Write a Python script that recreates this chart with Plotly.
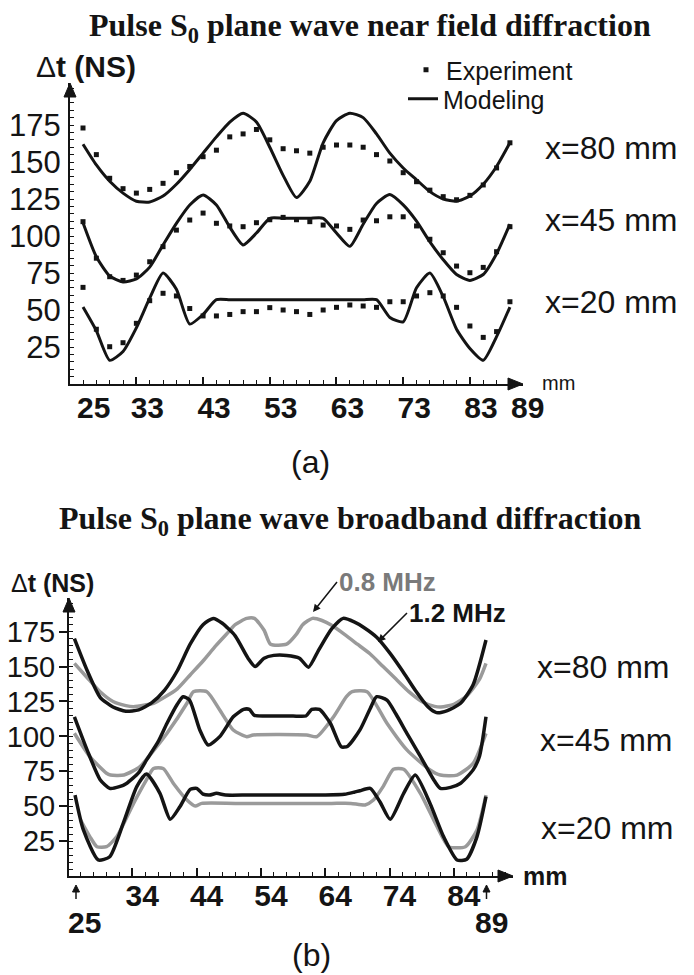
import plotly.graph_objects as go

# ---------------- data: panel (a) ----------------
a_pos = [25, 27, 29, 31, 33, 35, 37, 39, 41, 43, 45, 47, 49, 51, 53, 55, 57,
         59, 61, 63, 65, 67, 69, 71, 73, 75, 77, 79, 81, 83, 85, 87, 89]

a_exp_80 = [173, 155, 139, 132, 129, 131.5, 135.6, 142.8, 147, 153.6, 158, 167, 169,
            172, 165, 159, 157.6, 156, 160, 161.5, 161.5, 160, 155, 150.7, 142.8,
            136.7, 131, 126.6, 124.5, 127.5, 134.5, 146, 163]
a_exp_45 = [109.7, 85, 72.5, 70, 73.6, 82.6, 92.8, 104, 110.8, 115.5, 108.6, 106.8,
            106.3, 109, 111, 112.6, 111, 109.7, 107.4, 106.8, 104.5, 110.8, 110.3,
            113, 113, 106.8, 97.8, 88.7, 79.7, 75.2, 78.8, 89.4, 106.3]
a_exp_20 = [65.3, 37, 25.2, 27.9, 41, 56.3, 61.3, 59.5, 51, 46, 46, 47, 48.9, 48.9,
            51.6, 50, 48.9, 47, 50, 51.8, 53.4, 52.7, 51.8, 55.6, 55.6, 59.5, 61.7,
            59.5, 51.8, 39.2, 31.5, 35.4, 55.6]

a_mod_80 = [162, 148, 137, 129, 123.5, 123, 127, 135, 145, 156, 167, 177, 183, 177,
            160, 141, 126, 137, 163, 178, 183, 180, 169, 156, 146, 138, 130, 125,
            123.5, 127, 135, 147, 163]
a_mod_45 = [109, 86, 73, 69, 71, 79, 94, 108.6, 121, 127.7, 121, 106, 94, 102, 112,
            112, 112, 112, 112, 102, 93, 108, 122, 128, 121, 110, 96, 84, 74, 70, 74,
            88, 108]
a_mod_20 = [52, 36, 16, 22, 38, 58, 75, 64, 40.5, 47, 57, 57, 57, 57, 57, 57, 57, 57,
            57, 57, 57, 57, 57, 45, 42, 65, 75, 59, 37, 24, 16, 32, 52]

a_xticks = [33, 43, 53, 63, 73, 83]
a_yticks = [25, 50, 75, 100, 125, 150, 175]

# ---------------- data: panel (b) ----------------
b_x_12_80 = [25, 27, 29, 31, 33, 35, 37, 39, 41, 43, 45, 46.6, 48, 50, 52, 53.1, 54.5,
             56, 58, 60, 61.4, 63, 65, 66.8, 68.5, 70, 72, 74, 76, 78, 80, 81.3, 83,
             85, 87, 89]
b_y_12_80 = [170, 147, 128, 121, 118, 119, 124, 133, 147, 166, 180, 184.5, 181, 172,
             156, 150, 156, 158, 158, 156, 149.5, 162, 177, 184.5, 182, 178, 171, 160,
             147, 133, 121, 117, 118.5, 123.5, 137, 169]

b_x_08_80 = [25, 27, 29, 31, 33, 34.2, 36, 37.3, 39, 41, 43, 45, 47, 49, 50, 51.8, 53,
             54.5, 55.5, 58, 59.5, 60.5, 62, 63.5, 65, 67, 69, 71, 73, 75, 77, 79, 81,
             82, 84, 86, 88, 89]
b_y_08_80 = [152.3, 142, 132, 125, 122, 121.3, 122.5, 123.7, 128, 134, 144, 154, 165,
             175, 180, 184.5, 184.5, 176, 166, 166, 173, 180, 184.5, 183, 179.5, 173,
             166, 159, 150, 141, 132, 125, 121.5, 121, 123, 129, 141, 152.3]

b_x_12_45 = [25, 27, 29, 30.5, 32, 33.1, 35, 36.2, 38, 39.4, 41, 41.9, 42.9, 44.5, 45.8,
             47.6, 49.7, 51.3, 52.2, 53, 55, 57, 59, 61, 61.9, 63.1, 64.8, 66.5, 67.5,
             69.4, 71, 72, 73.6, 75, 76.7, 78, 79.5, 81, 81.9, 83.5, 85, 87, 88, 89]
b_y_12_45 = [114, 90, 69, 62.8, 64, 66.3, 74, 83, 96, 109.4, 123, 128.4, 126, 104.6,
             93.8, 99.8, 114, 119.3, 119.3, 115, 114.6, 114.6, 114.6, 114.6, 119.3,
             119.3, 109.4, 92.5, 93, 104.6, 120, 128.4, 126, 116, 102.2, 92, 80, 68,
             62.8, 63.5, 66.3, 76, 86, 114]

b_x_08_45 = [25, 27.4, 30, 30.6, 32.7, 35.2, 37, 39.4, 42.5, 43.5, 45.6, 47.6, 49.7,
             51.8, 52.8, 61.1, 62.7, 65.3, 67.3, 68.2, 70.5, 73.6, 76.7, 80.3, 81.9,
             84.5, 87, 89]
b_y_08_45 = [102.2, 85.5, 73.6, 72.3, 72.3, 78.3, 88, 102.2, 123.7, 132, 132, 118.9,
             104.6, 99.8, 101, 101, 99.8, 114, 128.4, 132, 132, 109.4, 90.3, 75.9,
             72.3, 72.3, 80.7, 102.2]

b_x_12_20 = [25.1, 26.4, 28.7, 30.5, 32.6, 34.7, 36.2, 38.3, 39.9, 41.4, 43, 44, 45, 46,
             47.1, 48.5, 52, 56, 60, 64, 67, 68.5, 69.4, 71, 72.5, 74.1, 76.2, 78,
             80.3, 82.4, 84.5, 86, 87.6, 89]
b_y_12_20 = [58, 33, 11.5, 13.8, 37.8, 64, 73, 59.2, 40.6, 49.6, 62, 62.8, 58.7, 58,
             59.2, 58, 58, 58, 58, 58, 58.5, 60, 61.1, 62.8, 53.2, 40.6, 59.2, 72.3, 52,
             28.2, 11.5, 12, 28.2, 56.8]

b_x_08_20 = [25.9, 27.4, 28.5, 30, 31.6, 34.2, 36.2, 37.3, 38.8, 40.4, 42.5, 43.8, 44.8,
             50, 55, 60, 65, 68, 70.2, 71.5, 73, 74.6, 76.2, 78.8, 81.4, 83.2, 85.8,
             87.6, 89]
b_y_08_20 = [40.6, 28.2, 21, 21, 28.2, 52, 68.8, 77, 77, 66.3, 54.4, 50.1, 52, 52, 52,
             52, 52, 52, 50.9, 54.4, 64, 76.5, 76.5, 59.2, 35.3, 21, 21, 33, 58]

b_xticks = [34, 44, 54, 64, 74, 84]
b_yticks = [25, 50, 75, 100, 125, 150, 175]

# ---------------- styling ----------------
OFF = 8                     # page body margin
W, H = 694 - OFF, 975 - OFF
BLACK = "#141414"
GRAY = "#9a9a9a"
SANS = "Liberation Sans, Arial, sans-serif"
SERIF = "Liberation Serif, Times New Roman, serif"


def PX(x):
    return (x - OFF) / W


def PY(y):
    return 1 - (y - OFF) / H


fig = go.Figure()

# panel (a) experiment
for i, ys in enumerate([a_exp_80, a_exp_45, a_exp_20]):
    fig.add_trace(go.Scatter(
        x=a_pos, y=ys, mode="markers", xaxis="x", yaxis="y",
        marker=dict(symbol="square", size=5, color=BLACK),
        name="Experiment", legend="legend", showlegend=(i == 0)))
# panel (a) modeling
for i, ys in enumerate([a_mod_80, a_mod_45, a_mod_20]):
    fig.add_trace(go.Scatter(
        x=a_pos, y=ys, mode="lines", xaxis="x", yaxis="y",
        line=dict(color=BLACK, width=3, shape="spline", smoothing=0.6),
        name="Modeling", legend="legend2", showlegend=(i == 0)))

# panel (b)
for xs, ys, col in [(b_x_08_80, b_y_08_80, GRAY), (b_x_12_80, b_y_12_80, BLACK),
                    (b_x_08_45, b_y_08_45, GRAY), (b_x_12_45, b_y_12_45, BLACK),
                    (b_x_08_20, b_y_08_20, GRAY), (b_x_12_20, b_y_12_20, BLACK)]:
    fig.add_trace(go.Scatter(
        x=xs, y=ys, mode="lines", xaxis="x2", yaxis="y2", showlegend=False,
        line=dict(color=col, width=3.5, shape="spline", smoothing=0.6)))

axis_common = dict(showline=True, linecolor=BLACK, linewidth=2, showgrid=False,
                   zeroline=False, tickcolor=BLACK)
legend_common = dict(xanchor="left", yanchor="middle", bgcolor="rgba(0,0,0,0)",
                     font=dict(family=SANS, size=25, color=BLACK),
                     tracegroupgap=0, itemwidth=30)

fig.update_layout(
    width=W, height=H, margin=dict(l=0, r=0, t=0, b=0),
    paper_bgcolor="white", plot_bgcolor="rgba(0,0,0,0)",
    font=dict(family=SANS, color=BLACK),
    xaxis=dict(**axis_common, domain=[PX(70), PX(523)], range=[23.05, 90.96],
               anchor="y", tickmode="array", tickvals=a_xticks,
               ticktext=["<b>%d</b>" % v for v in a_xticks],
               ticks="inside", ticklen=7, tickwidth=2, ticklabelshift=11,
               ticklabelstandoff=-4,
               tickfont=dict(family=SANS, size=30, color=BLACK),
               minor=dict(ticks="inside", ticklen=4, tickwidth=1, tickcolor=BLACK,
                          tickmode="linear", tick0=25, dtick=2, showgrid=False)),
    yaxis=dict(**axis_common, domain=[PY(384), PY(83)], range=[0, 203.4],
               anchor="x", tickmode="array", tickvals=a_yticks,
               ticks="", ticklabelstandoff=1,
               tickfont=dict(family=SANS, size=31, color=BLACK),
               minor=dict(ticks="inside", ticklen=4, tickwidth=1, tickcolor=BLACK,
                          tickmode="linear", tick0=0, dtick=5, showgrid=False)),
    xaxis2=dict(**axis_common, domain=[PX(69), PX(513)], range=[24.16, 93.2],
                anchor="y2", tickmode="array", tickvals=b_xticks,
                ticktext=["<b>%d</b>" % v for v in b_xticks],
                ticks="inside", ticklen=8, tickwidth=2, ticklabelshift=10,
                ticklabelstandoff=-8,
                tickfont=dict(family=SANS, size=30, color=BLACK),
                minor=dict(ticks="inside", ticklen=4, tickwidth=1, tickcolor=BLACK,
                           tickmode="linear", tick0=24, dtick=2, showgrid=False)),
    yaxis2=dict(**axis_common, domain=[PY(876), PY(598)], range=[0, 199.1],
                anchor="x2", tickmode="array", tickvals=b_yticks,
                ticks="outside", ticklen=8, tickwidth=2, ticklabelstandoff=-2,
                tickfont=dict(family=SANS, size=29, color=BLACK),
                minor=dict(ticks="inside", ticklen=4, tickwidth=1, tickcolor=BLACK,
                           tickmode="linear", tick0=0, dtick=5, showgrid=False)),
    legend=dict(x=PX(406), y=PY(70), **legend_common),
    legend2=dict(x=PX(403), y=PY(99), **legend_common),
)

ann = []
shapes = []


def text(s, x, y, size, family=SANS, color=BLACK, xanchor="center"):
    ann.append(dict(text=s, x=PX(x), y=PY(y), xref="paper", yref="paper",
                    showarrow=False, xanchor=xanchor, yanchor="middle",
                    font=dict(family=family, size=size, color=color)))


def head(x, y, path):
    # filled arrowhead, path in pixels relative to tip (y up)
    shapes.append(dict(type="path", xref="paper", yref="paper",
                       xsizemode="pixel", ysizemode="pixel",
                       xanchor=PX(x), yanchor=PY(y), path=path,
                       fillcolor=BLACK, line=dict(color=BLACK, width=1)))


def seg(x0, y0, x1, y1, w=1.5):
    shapes.append(dict(type="line", xref="paper", yref="paper",
                       x0=PX(x0), y0=PY(y0), x1=PX(x1), y1=PY(y1),
                       line=dict(color=BLACK, width=w)))


# titles
text("<b>Pulse S<sub>0</sub> plane wave near field diffraction</b>", 370, 27, 32, SERIF)
text("<b>Pulse S<sub>0</sub> plane wave broadband diffraction</b>", 350, 520, 32, SERIF)

# axis titles
text("Δ<b>t\u00a0(NS)</b>", 86, 67, 30)
text("Δ<b>t\u00a0(NS)</b>", 52, 583, 25)
text("mm", 558, 383, 20)
text("<b>mm</b>", 545, 876, 25)

# axis arrowheads
UP = "M -6,-14 L 6,-14 L 0,0 Z"
RIGHT = "M -15,-6 L -15,6 L 0,0 Z"
head(70, 83, UP)
head(523, 384, RIGHT)
head(69, 598, UP)
head(513, 876, RIGHT)

# end labels of x axes
text("<b>25</b>", 93, 407, 30)
text("<b>89</b>", 527, 407, 30)
text("<b>25</b>", 84, 922, 30)
text("<b>89</b>", 491, 922, 30)
SMALL_UP = "M -3.5,-7 L 3.5,-7 L 0,0 Z"
seg(76, 899, 76, 890)
head(76, 885, SMALL_UP)
seg(486.5, 899, 486.5, 890)
head(486.5, 885, SMALL_UP)

# curve labels
for lbl, y in [("x=80 mm", 148), ("x=45 mm", 220), ("x=20 mm", 302)]:
    text(lbl, 611, y, 32)
for lbl, x, y in [("x=80 mm", 603, 667), ("x=45 mm", 606, 740), ("x=20 mm", 607, 828)]:
    text(lbl, x, y, 32)

# frequency labels with pointer arrows
ann.append(dict(text="<b>0.8 MHz</b>", x=PX(313), y=PY(612), xref="paper", yref="paper",
                showarrow=True, ax=24, ay=-30, xanchor="left", yanchor="middle",
                arrowhead=2, arrowsize=1, arrowwidth=1.5, arrowcolor=BLACK,
                font=dict(family=SANS, size=26, color="#7a7a7a")))
ann.append(dict(text="<b>1.2 MHz</b>", x=PX(378), y=PY(642), xref="paper", yref="paper",
                showarrow=True, ax=29, ay=-29, xanchor="left", yanchor="middle",
                arrowhead=2, arrowsize=1, arrowwidth=1.5, arrowcolor=BLACK,
                font=dict(family=SANS, size=26, color=BLACK)))

# panel letters
text("(a)", 310, 462, 32)
text("(b)", 311, 955, 32)

fig.update_layout(annotations=ann, shapes=shapes)
fig.write_html("out.html")
